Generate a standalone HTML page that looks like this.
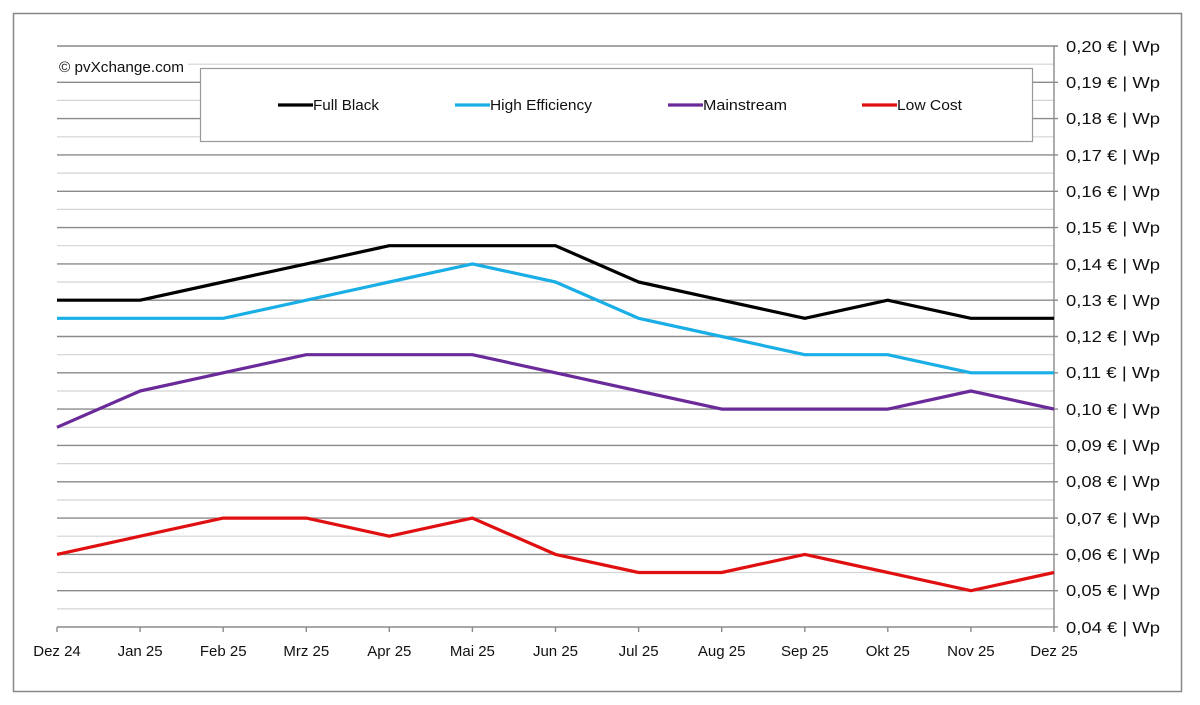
<!DOCTYPE html><html><head><meta charset="utf-8"><style>body{margin:0;background:#fff}svg{display:block}text{font-family:"Liberation Sans",sans-serif;font-size:15px;fill:#111}.y text{font-size:16px}</style></head><body>
<svg width="1200" height="705" viewBox="0 0 1200 705">
<rect x="13.5" y="13.5" width="1168" height="678" fill="#fff" stroke="#888" stroke-width="1.5"/>
<g stroke="#d4d4d4" stroke-width="1.2">
<line x1="57" x2="1054" y1="64.2" y2="64.2"/><line x1="57" x2="1054" y1="100.4" y2="100.4"/><line x1="57" x2="1054" y1="136.8" y2="136.8"/><line x1="57" x2="1054" y1="173.1" y2="173.1"/><line x1="57" x2="1054" y1="209.4" y2="209.4"/><line x1="57" x2="1054" y1="245.7" y2="245.7"/><line x1="57" x2="1054" y1="282" y2="282"/><line x1="57" x2="1054" y1="318.3" y2="318.3"/><line x1="57" x2="1054" y1="354.7" y2="354.7"/><line x1="57" x2="1054" y1="391" y2="391"/><line x1="57" x2="1054" y1="427.3" y2="427.3"/><line x1="57" x2="1054" y1="463.6" y2="463.6"/><line x1="57" x2="1054" y1="500" y2="500"/><line x1="57" x2="1054" y1="536.2" y2="536.2"/><line x1="57" x2="1054" y1="572.5" y2="572.5"/><line x1="57" x2="1054" y1="608.9" y2="608.9"/>
</g>
<g stroke="#8a8a8a" stroke-width="1.4">
<line x1="57" x2="1058" y1="46" y2="46"/><line x1="57" x2="1058" y1="82.3" y2="82.3"/><line x1="57" x2="1058" y1="118.6" y2="118.6"/><line x1="57" x2="1058" y1="154.9" y2="154.9"/><line x1="57" x2="1058" y1="191.3" y2="191.3"/><line x1="57" x2="1058" y1="227.6" y2="227.6"/><line x1="57" x2="1058" y1="263.9" y2="263.9"/><line x1="57" x2="1058" y1="300.2" y2="300.2"/><line x1="57" x2="1058" y1="336.5" y2="336.5"/><line x1="57" x2="1058" y1="372.8" y2="372.8"/><line x1="57" x2="1058" y1="409.1" y2="409.1"/><line x1="57" x2="1058" y1="445.4" y2="445.4"/><line x1="57" x2="1058" y1="481.8" y2="481.8"/><line x1="57" x2="1058" y1="518.1" y2="518.1"/><line x1="57" x2="1058" y1="554.4" y2="554.4"/><line x1="57" x2="1058" y1="590.7" y2="590.7"/><line x1="57" x2="1058" y1="627" y2="627"/>
<line x1="1054" x2="1054" y1="46" y2="627"/>
<line x1="57" x2="57" y1="627" y2="632"/><line x1="140.1" x2="140.1" y1="627" y2="632"/><line x1="223.2" x2="223.2" y1="627" y2="632"/><line x1="306.3" x2="306.3" y1="627" y2="632"/><line x1="389.3" x2="389.3" y1="627" y2="632"/><line x1="472.4" x2="472.4" y1="627" y2="632"/><line x1="555.5" x2="555.5" y1="627" y2="632"/><line x1="638.6" x2="638.6" y1="627" y2="632"/><line x1="721.7" x2="721.7" y1="627" y2="632"/><line x1="804.8" x2="804.8" y1="627" y2="632"/><line x1="887.8" x2="887.8" y1="627" y2="632"/><line x1="970.9" x2="970.9" y1="627" y2="632"/><line x1="1054" x2="1054" y1="627" y2="632"/>
</g>
<rect x="56" y="56" width="132" height="20" fill="#fff"/>
<text x="59" y="72" textLength="125" lengthAdjust="spacingAndGlyphs">© pvXchange.com</text>
<rect x="200.5" y="68.5" width="832" height="73" fill="#fff" stroke="#999" stroke-width="1.2"/>
<g stroke-width="3.2" fill="none">
<line x1="278" x2="313" y1="105" y2="105" stroke="#000"/>
<line x1="455" x2="490" y1="105" y2="105" stroke="#1aaee6"/>
<line x1="668" x2="703" y1="105" y2="105" stroke="#6a2a9a"/>
<line x1="862" x2="897" y1="105" y2="105" stroke="#e01010"/>
</g>
<text x="313" y="110" textLength="66" lengthAdjust="spacingAndGlyphs">Full Black</text><text x="490" y="110" textLength="102" lengthAdjust="spacingAndGlyphs">High Efficiency</text><text x="703" y="110" textLength="84" lengthAdjust="spacingAndGlyphs">Mainstream</text><text x="897" y="110" textLength="65" lengthAdjust="spacingAndGlyphs">Low Cost</text>
<g fill="none" stroke-width="3.2" stroke-linejoin="round">
<polyline stroke="#000" points="57,300.2 140.1,300.2 223.2,282 306.3,263.9 389.3,245.7 472.4,245.7 555.5,245.7 638.6,282 721.7,300.2 804.8,318.3 887.8,300.2 970.9,318.3 1054,318.3"/>
<polyline stroke="#1aaee6" points="57,318.3 140.1,318.3 223.2,318.3 306.3,300.2 389.3,282 472.4,263.9 555.5,282 638.6,318.3 721.7,336.5 804.8,354.7 887.8,354.7 970.9,372.8 1054,372.8"/>
<polyline stroke="#6a2a9a" points="57,427.3 140.1,391 223.2,372.8 306.3,354.7 389.3,354.7 472.4,354.7 555.5,372.8 638.6,391 721.7,409.1 804.8,409.1 887.8,409.1 970.9,391 1054,409.1"/>
<polyline stroke="#e01010" points="57,554.4 140.1,536.2 223.2,518.1 306.3,518.1 389.3,536.2 472.4,518.1 555.5,554.4 638.6,572.5 721.7,572.5 804.8,554.4 887.8,572.5 970.9,590.7 1054,572.5"/>
</g>
<g class="y">
<text x="1066" y="52" textLength="94" lengthAdjust="spacingAndGlyphs">0,20 € | Wp</text><text x="1066" y="88" textLength="94" lengthAdjust="spacingAndGlyphs">0,19 € | Wp</text><text x="1066" y="124" textLength="94" lengthAdjust="spacingAndGlyphs">0,18 € | Wp</text><text x="1066" y="161" textLength="94" lengthAdjust="spacingAndGlyphs">0,17 € | Wp</text><text x="1066" y="197" textLength="94" lengthAdjust="spacingAndGlyphs">0,16 € | Wp</text><text x="1066" y="233" textLength="94" lengthAdjust="spacingAndGlyphs">0,15 € | Wp</text><text x="1066" y="270" textLength="94" lengthAdjust="spacingAndGlyphs">0,14 € | Wp</text><text x="1066" y="306" textLength="94" lengthAdjust="spacingAndGlyphs">0,13 € | Wp</text><text x="1066" y="342" textLength="94" lengthAdjust="spacingAndGlyphs">0,12 € | Wp</text><text x="1066" y="378" textLength="94" lengthAdjust="spacingAndGlyphs">0,11 € | Wp</text><text x="1066" y="415" textLength="94" lengthAdjust="spacingAndGlyphs">0,10 € | Wp</text><text x="1066" y="451" textLength="94" lengthAdjust="spacingAndGlyphs">0,09 € | Wp</text><text x="1066" y="487" textLength="94" lengthAdjust="spacingAndGlyphs">0,08 € | Wp</text><text x="1066" y="524" textLength="94" lengthAdjust="spacingAndGlyphs">0,07 € | Wp</text><text x="1066" y="560" textLength="94" lengthAdjust="spacingAndGlyphs">0,06 € | Wp</text><text x="1066" y="596" textLength="94" lengthAdjust="spacingAndGlyphs">0,05 € | Wp</text><text x="1066" y="633" textLength="94" lengthAdjust="spacingAndGlyphs">0,04 € | Wp</text>
</g>
<g text-anchor="middle">
<text x="57" y="656">Dez 24</text><text x="140.1" y="656">Jan 25</text><text x="223.2" y="656">Feb 25</text><text x="306.3" y="656">Mrz 25</text><text x="389.3" y="656">Apr 25</text><text x="472.4" y="656">Mai 25</text><text x="555.5" y="656">Jun 25</text><text x="638.6" y="656">Jul 25</text><text x="721.7" y="656">Aug 25</text><text x="804.8" y="656">Sep 25</text><text x="887.8" y="656">Okt 25</text><text x="970.9" y="656">Nov 25</text><text x="1054" y="656">Dez 25</text>
</g>
</svg></body></html>
